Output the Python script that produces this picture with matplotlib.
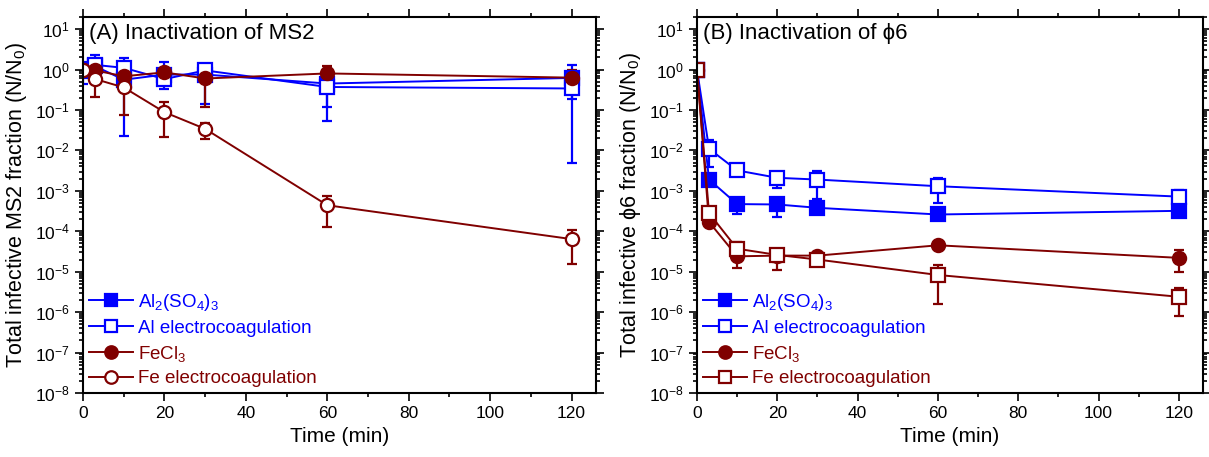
import matplotlib
matplotlib.use("Agg")
import matplotlib.pyplot as plt
from matplotlib.lines import Line2D
from matplotlib.ticker import LogLocator, MultipleLocator, NullFormatter

plt.rcParams['font.family'] = ['Liberation Sans', 'DejaVu Sans']
plt.rcParams['mathtext.fontset'] = 'custom'
plt.rcParams['mathtext.rm'] = 'Liberation Sans'
plt.rcParams['mathtext.it'] = 'Liberation Sans:italic'
plt.rcParams['mathtext.bf'] = 'Liberation Sans:bold'

BLUE = '#0000FF'
DARKRED = '#800000'

time_min = [0, 3, 10, 20, 30, 60, 120]

# Panel A: MS2 (value, lower bound, upper bound)
ms2_al2so4 = [1.0, 1.2, 0.56, 0.75, 0.75, 0.45, 0.62]
ms2_al2so4_lo = [0.6, 0.8, 0.4, 0.5, 0.5, 0.12, 0.19]
ms2_al2so4_hi = [1.4, 1.7, 0.8, 1.0, 1.0, 0.7, 0.9]

ms2_alec = [1.0, 1.3, 1.1, 0.58, 0.95, 0.37, 0.34]
ms2_alec_lo = [0.45, 0.8, 0.023, 0.33, 0.14, 0.052, 0.005]
ms2_alec_hi = [1.5, 2.3, 1.9, 1.5, 1.25, 0.6, 1.3]

ms2_fecl3 = [1.0, 0.95, 0.68, 0.85, 0.6, 0.8, 0.63]
ms2_fecl3_lo = [0.8, 0.8, 0.5, 0.6, 0.12, 0.45, 0.3]
ms2_fecl3_hi = [1.3, 1.1, 0.9, 1.1, 1.0, 1.2, 0.95]

ms2_feec = [1.0, 0.58, 0.36, 0.088, 0.034, 4.4e-4, 6.4e-5]
ms2_feec_lo = [0.7, 0.21, 0.076, 0.021, 0.019, 1.26e-4, 1.55e-5]
ms2_feec_hi = [1.3, 1.5, 0.6, 0.155, 0.047, 7.6e-4, 1.1e-4]

# Panel B: phi6
phi6_al2so4 = [1.0, 0.0019, 4.7e-4, 4.6e-4, 3.8e-4, 2.6e-4, 3.2e-4]
phi6_al2so4_lo = [0.9, 0.0016, 2.7e-4, 2.3e-4, 3.3e-4, 2.2e-4, 2.6e-4]
phi6_al2so4_hi = [1.1, 0.0022, 6.0e-4, 6.0e-4, 4.3e-4, 3.0e-4, 3.9e-4]

phi6_alec = [1.0, 0.011, 0.0032, 0.0021, 0.0019, 0.0013, 7.2e-4]
phi6_alec_lo = [0.9, 0.0038, 0.0027, 0.0012, 6.3e-4, 5.0e-4, 5.0e-4]
phi6_alec_hi = [1.1, 0.018, 0.0037, 0.0027, 0.0031, 0.0021, 0.00105]

phi6_fecl3 = [1.0, 1.7e-4, 2.4e-5, 2.5e-5, 2.5e-5, 4.5e-5, 2.2e-5]
phi6_fecl3_lo = [0.9, 1.4e-4, 1.25e-5, 1.7e-5, 2.1e-5, 3.9e-5, 1.0e-5]
phi6_fecl3_hi = [1.1, 2.0e-4, 3.3e-5, 3.5e-5, 3.0e-5, 5.2e-5, 3.4e-5]

phi6_feec = [1.0, 2.8e-4, 3.7e-5, 2.6e-5, 2.0e-5, 8.3e-6, 2.4e-6]
phi6_feec_lo = [0.9, 2.4e-4, 2.8e-5, 1.1e-5, 1.35e-5, 1.6e-6, 8.0e-7]
phi6_feec_hi = [1.1, 3.2e-4, 5.5e-5, 3.7e-5, 2.6e-5, 1.5e-5, 4.0e-6]

labels = ['Al$_2$(SO$_4$)$_3$', 'Al electrocoagulation', 'FeCl$_3$', 'Fe electrocoagulation']
colors = [BLUE, BLUE, DARKRED, DARKRED]

fig = plt.figure(figsize=(12.09, 4.57), dpi=100)
axA = fig.add_axes([0.0687, 0.140, 0.4243, 0.823])
axB = fig.add_axes([0.5765, 0.140, 0.4185, 0.823])


def draw(ax, series, markers):
    handles = []
    for (v, lo, hi), lab, col, (mk, filled) in zip(series, labels, colors, markers):
        yerr = [[a - b for a, b in zip(v, lo)], [b - a for a, b in zip(v, hi)]]
        face = col if filled else 'white'
        ax.errorbar(time_min, v, yerr=yerr, color=col, marker=mk, ms=9.5,
                    mfc=face, mec=col, mew=1.6,
                    lw=1.4, elinewidth=1.6, capsize=3.5, capthick=1.6)
        handles.append(Line2D([], [], color=col, marker=mk, ms=9, mfc=face,
                              mec=col, mew=1.6, lw=1.4, label=lab))
    return handles


def style(ax, title, ylabel, handles):
    ax.set_yscale('log')
    ax.set_xlim(0, 126)
    ax.set_ylim(1e-8, 20)
    ax.xaxis.set_major_locator(MultipleLocator(20))
    ax.xaxis.set_minor_locator(MultipleLocator(10))
    ax.yaxis.set_major_locator(LogLocator(base=10, numticks=20))
    ax.yaxis.set_minor_locator(LogLocator(base=10, subs=range(2, 10), numticks=20))
    ax.yaxis.set_minor_formatter(NullFormatter())
    ax.tick_params(which='both', direction='out', top=True, right=True,
                   labeltop=False, labelright=False, width=1.2, labelsize=12.5)
    ax.tick_params(which='major', length=6)
    ax.tick_params(which='minor', length=3)
    for s in ax.spines.values():
        s.set_linewidth(1.5)
    ax.set_xlabel('Time (min)', fontsize=15)
    ax.set_ylabel(ylabel, fontsize=15.5, labelpad=4)
    ax.text(0.012, 0.985, title, transform=ax.transAxes, fontsize=16,
            va='top', ha='left')
    ax.legend(handles=handles, loc='lower left', bbox_to_anchor=(0.0, 0.0),
              frameon=False, fontsize=13.5, handlelength=2.35,
              handletextpad=0.3, labelspacing=0.36, borderaxespad=0.0,
              borderpad=0.3, labelcolor='linecolor')


hA = draw(axA, [(ms2_al2so4, ms2_al2so4_lo, ms2_al2so4_hi),
                (ms2_alec, ms2_alec_lo, ms2_alec_hi),
                (ms2_fecl3, ms2_fecl3_lo, ms2_fecl3_hi),
                (ms2_feec, ms2_feec_lo, ms2_feec_hi)],
          [('s', True), ('s', False), ('o', True), ('o', False)])
style(axA, '(A) Inactivation of MS2', 'Total infective MS2 fraction (N/N$_0$)', hA)

hB = draw(axB, [(phi6_al2so4, phi6_al2so4_lo, phi6_al2so4_hi),
                (phi6_alec, phi6_alec_lo, phi6_alec_hi),
                (phi6_fecl3, phi6_fecl3_lo, phi6_fecl3_hi),
                (phi6_feec, phi6_feec_lo, phi6_feec_hi)],
          [('s', True), ('s', False), ('o', True), ('s', False)])
style(axB, '(B) Inactivation of \u03d56', 'Total infective \u03d56 fraction (N/N$_0$)', hB)

fig.savefig('out.png', dpi=100)
